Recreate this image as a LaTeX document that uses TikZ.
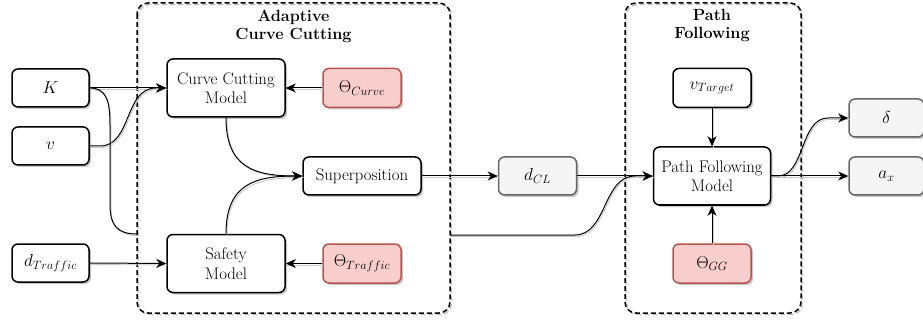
\documentclass[tikz,border=0pt]{standalone}
\usetikzlibrary{arrows.meta,shadows}
\definecolor{grayfill}{HTML}{F5F5F5}
\definecolor{grayline}{HTML}{666666}
\definecolor{redfill}{HTML}{F8CECC}
\definecolor{redline}{HTML}{B85450}
\tikzset{
  base/.style={draw, rounded corners=6pt, line width=1.5pt, align=center, inner sep=0pt,
    text=black, drop shadow={shadow xshift=2pt, shadow yshift=-2pt, opacity=0.22, fill=black}},
  txt/.style={font=\fontsize{16.8}{19.5}\selectfont},
  mth/.style={font=\fontsize{18}{21}\selectfont},
  plainb/.style={base, fill=white},
  grayb/.style={base, fill=grayfill, draw=grayline},
  redb/.style={base, fill=redfill, draw=redline},
  smallb/.style={minimum width=77pt, minimum height=38pt},
  bigb/.style={minimum width=118pt, minimum height=58pt},
  wideb/.style={minimum width=118pt, minimum height=38pt},
  groupbox/.style={draw, line width=1.5pt, dash pattern=on 5pt off 3pt, rounded corners=11pt,
    preaction={draw=black!25, line width=1.4pt, dash pattern=on 5pt off 3pt, transform canvas={shift={(1.5pt,-1.5pt)}}}},
  titletxt/.style={align=center, font=\fontsize{16.2}{18}\selectfont\bfseries, text=black},
  edge/.style={line width=1pt, -{Stealth[length=10pt,width=9pt,inset=3pt]},
    preaction={draw=black!22, line width=0.9pt, -, transform canvas={shift={(1pt,-1.5pt)}}}},
}
\begin{document}
\begin{tikzpicture}[x=1pt, y=-1pt]
\useasboundingbox (0,0) rectangle (923,323);

% groups
\draw[groupbox] (137,3) rectangle (450,313);
\draw[groupbox] (625,3) rectangle (801,313);
\coordinate (g1w) at (137,234);
\coordinate (g1e) at (450,235);
\node[titletxt] (t1) at (293.5,26) {Adaptive\\Curve Cutting};
\node[titletxt] (t2) at (712,26) {Path\\Following};

% nodes
\node[plainb, smallb, mth] (K) at (50.5,88) {$K$};
\node[plainb, smallb, mth] (v) at (50.5,146) {$v$};
\node[plainb, smallb, mth] (dT) at (50.5,263) {$d_{Traffic}$};
\node[plainb, bigb, txt] (ccm) at (226,88) {Curve Cutting\\Model};
\node[redb, smallb, minimum width=78pt, minimum height=39pt, mth] (thc) at (362,88) {$\Theta_{Curve}$};
\node[plainb, wideb, txt] (sup) at (362,176) {Superposition};
\node[plainb, bigb, txt] (saf) at (226,263.5) {Safety\\Model};
\node[redb, smallb, minimum width=78pt, minimum height=39pt, mth] (tht) at (362,263.5) {$\Theta_{Traffic}$};
\node[grayb, smallb, minimum width=78pt, mth] (dcl) at (537.5,176) {$d_{CL}$};
\node[plainb, smallb, minimum width=78pt, minimum height=39pt, mth] (vt) at (712,88) {$v_{Target}$};
\node[plainb, bigb, minimum width=117pt, txt] (pfm) at (712,176) {Path Following\\Model};
\node[redb, smallb, minimum width=78pt, minimum height=39pt, mth] (thgg) at (712,263.5) {$\Theta_{GG}$};
\node[grayb, smallb, minimum width=75pt, mth] (delta) at (886.5,118) {$\delta$};
\node[grayb, smallb, minimum width=75pt, mth] (ax) at (886.5,176) {$a_x$};

% connectors
\draw[edge] (K.east) -- (ccm.west);
\draw[edge] (v.east) -- (100,146) .. controls (132,146) and (124,88) .. (156,88) -- (ccm.west);
\draw[edge, -] (K.east) .. controls (106,88) and (110,100) .. (110,125) -- (110,205)
   .. controls (110,226) and (118,234) .. (g1w);
\draw[edge] (dT.east) -- (saf.west);
\draw[edge] (thc.west) -- (ccm.east);
\draw[edge] (tht.west) -- (saf.east);
\draw[edge] (ccm.south) .. controls (226,168) and (255,176) .. (sup.west);
\draw[edge] (saf.north) .. controls (226,184) and (255,176) .. (sup.west);
\draw[edge] (sup.east) -- (dcl.west);
\draw[edge] (dcl.east) -- (pfm.west);
\draw[edge] (g1e) -- (575,235) .. controls (607,235) and (603,176) .. (635,176) -- (pfm.west);
\draw[edge] (vt.south) -- (pfm.north);
\draw[edge] (thgg.north) -- (pfm.south);
\draw[edge] (pfm.east) -- (778,176) .. controls (805,176) and (800,118) .. (828,118) -- (delta.west);
\draw[edge] (pfm.east) -- (ax.west);
\end{tikzpicture}
\end{document}
